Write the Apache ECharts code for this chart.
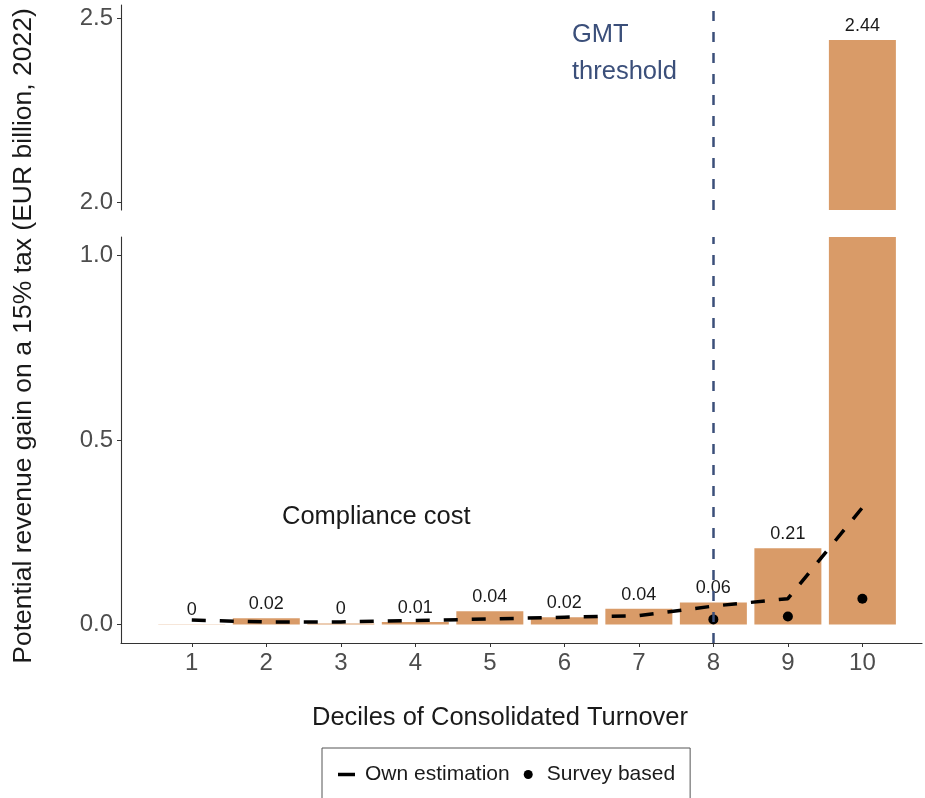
<!DOCTYPE html>
<html>
<head>
<meta charset="utf-8">
<script src="https://cdn.jsdelivr.net/npm/echarts@6/dist/echarts.min.js"></script>
<style>
html,body{margin:0;padding:0;background:#fff;}
#chart{width:925px;height:798px;}
</style>
</head>
<body>
<div id="chart"></div>
<script>
// ---- data ----
var deciles = [1, 2, 3, 4, 5, 6, 7, 8, 9, 10];
var revenueGain = [0.001, 0.017, 0.003, 0.007, 0.036, 0.020, 0.043, 0.060, 0.207, 2.44];
var barLabels = ['0', '0.02', '0', '0.01', '0.04', '0.02', '0.04', '0.06', '0.21', '2.44'];
var ownEstimation = [0.012, 0.007, 0.007, 0.011, 0.015, 0.020, 0.024, 0.050, 0.070, 0.317];
var surveyDeciles = [8, 9, 10];
var surveyBased = [0.014, 0.022, 0.070];
var gmtThreshold = 8;
var lowerTicks = [0.0, 0.5, 1.0];
var upperTicks = [2.0, 2.5];
var lowerRange = [-0.05, 1.05];
var upperRange = [1.98, 2.535];

var FONT = "'Liberation Sans', Arial, Helvetica, sans-serif";
var BAR = '#D99B68';
var AXIS = '#333333';
var TICKTXT = '#4d4d4d';
var GMT = '#3b4f7a';

var chart = echarts.init(document.getElementById('chart'), null, {renderer: 'canvas'});

function yAxisCfg(gi, range, ticks) {
  return {
    type: 'value', gridIndex: gi, min: range[0], max: range[1],
    splitLine: {show: false},
    axisLine: {show: true, lineStyle: {color: AXIS, width: 1.1}},
    axisTick: {show: true, length: 4, customValues: ticks, lineStyle: {color: AXIS}},
    axisLabel: {show: true, customValues: ticks, margin: 8, fontSize: 24, color: TICKTXT, fontFamily: FONT,
      formatter: function (v) { return v.toFixed(1); }}
  };
}

var lowerBarData = revenueGain.map(function (v, i) {
  return {value: [deciles[i], v], label: {show: v <= lowerRange[1], formatter: barLabels[i]}};
});
var upperBarData = [];
revenueGain.forEach(function (v, i) {
  if (v >= upperRange[0]) upperBarData.push({value: [deciles[i], v], label: {show: true, formatter: barLabels[i]}});
});

var vline = {
  silent: true, symbol: ['none', 'none'], animation: false, z: 10,
  label: {show: false},
  lineStyle: {color: GMT, width: 2.5, type: [10, 11]},
  data: [{xAxis: gmtThreshold}]
};

var barLabelStyle = {position: 'top', distance: 5, fontSize: 18, color: '#1a1a1a', fontFamily: FONT};

var option = {
  animation: false,
  backgroundColor: '#ffffff',
  textStyle: {fontFamily: FONT},
  grid: [
    {left: 121, right: 3, top: 5, height: 205},
    {left: 121, right: 3, top: 237, height: 406}
  ],
  xAxis: [
    {type: 'value', gridIndex: 0, min: 0.05, max: 10.8, show: false},
    {type: 'value', gridIndex: 1, min: 0.05, max: 10.8,
      splitLine: {show: false},
      axisLine: {show: true, onZero: false, lineStyle: {color: AXIS, width: 1.1}},
      axisTick: {show: true, length: 4, customValues: deciles, lineStyle: {color: AXIS}},
      axisLabel: {show: true, customValues: deciles, margin: 8, fontSize: 24, color: TICKTXT, fontFamily: FONT}
    }
  ],
  yAxis: [
    yAxisCfg(0, upperRange, upperTicks),
    yAxisCfg(1, lowerRange, lowerTicks)
  ],
  legend: {
    left: 322, top: 748,
    padding: [16, 15, 40, 16],
    borderColor: '#555555', borderWidth: 1,
    itemWidth: 17, itemHeight: 9, itemGap: 14,
    selectedMode: false,
    textStyle: {fontSize: 21, color: '#1a1a1a', fontFamily: FONT, padding: [0, 0, 0, 5]},
    data: [
      {name: 'Own estimation', icon: 'path://M0,0H17V3.5H0Z', itemStyle: {color: '#000'}},
      {name: 'Survey based', icon: 'circle', itemStyle: {color: '#000'}}
    ]
  },
  series: [
    {
      name: 'bars-lower', type: 'bar', xAxisIndex: 1, yAxisIndex: 1,
      barWidth: 67, clip: true,
      itemStyle: {color: BAR},
      label: barLabelStyle,
      data: lowerBarData,
      markLine: vline, z: 2
    },
    {
      name: 'bars-upper', type: 'bar', xAxisIndex: 0, yAxisIndex: 0,
      barWidth: 67, clip: true,
      itemStyle: {color: BAR},
      label: barLabelStyle,
      data: upperBarData,
      markLine: vline, z: 2
    },
    {
      name: 'Own estimation', type: 'line', xAxisIndex: 1, yAxisIndex: 1,
      symbol: 'none', color: '#000', z: 5,
      lineStyle: {color: '#000', width: 3.5, type: [14, 14]},
      data: deciles.map(function (d, i) { return [d, ownEstimation[i]]; })
    },
    {
      name: 'Survey based', type: 'scatter', xAxisIndex: 1, yAxisIndex: 1,
      symbol: 'circle', symbolSize: 10, color: '#000', z: 6,
      itemStyle: {color: '#000', opacity: 1},
      data: surveyDeciles.map(function (d, i) { return [d, surveyBased[i]]; })
    }
  ],
  graphic: [
    {type: 'text', x: 24, y: 336, rotation: Math.PI / 2,
      style: {text: 'Potential revenue gain on a 15% tax (EUR billion, 2022)', fontSize: 26.5, fontFamily: FONT,
        fill: '#1a1a1a', align: 'center', verticalAlign: 'middle'}},
    {type: 'text', x: 500, y: 718,
      style: {text: 'Deciles of Consolidated Turnover', fontSize: 25.5, fontFamily: FONT,
        fill: '#1a1a1a', align: 'center', verticalAlign: 'middle'}},
    {type: 'text', x: 282, y: 517,
      style: {text: 'Compliance cost', fontSize: 25.5, fontFamily: FONT,
        fill: '#1a1a1a', align: 'left', verticalAlign: 'middle'}},
    {type: 'text', x: 572, y: 35,
      style: {text: 'GMT', fontSize: 25.5, fontFamily: FONT, fill: GMT, align: 'left', verticalAlign: 'middle'}},
    {type: 'text', x: 572, y: 72,
      style: {text: 'threshold', fontSize: 25.5, fontFamily: FONT, fill: GMT, align: 'left', verticalAlign: 'middle'}}
  ]
};
chart.setOption(option);
</script>
</body>
</html>
